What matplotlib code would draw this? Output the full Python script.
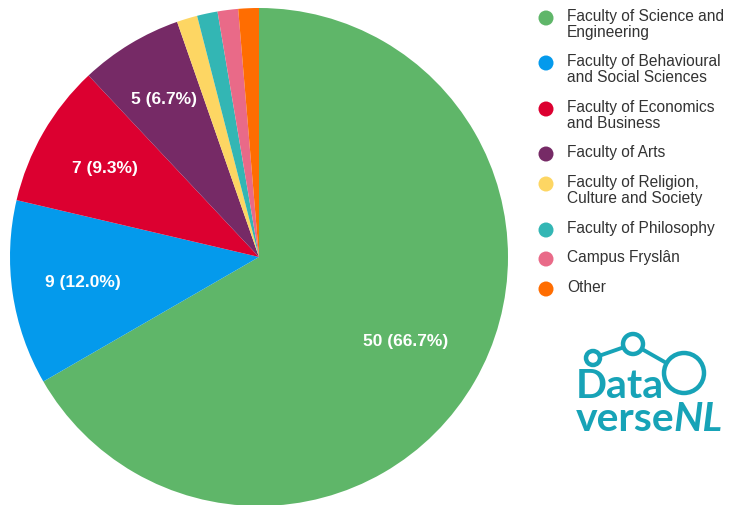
import numpy as np
import matplotlib.pyplot as plt
from matplotlib.patches import Circle

# data
labels = ['Faculty of Science and\nEngineering',
          'Faculty of Behavioural\nand Social Sciences',
          'Faculty of Economics\nand Business',
          'Faculty of Arts',
          'Faculty of Religion,\nCulture and Society',
          'Faculty of Philosophy',
          'Campus Fryslân',
          'Other']
counts = [50, 9, 7, 5, 1, 1, 1, 1]
colors = ['#5fb669', '#049aec', '#dc0030', '#762a66', '#fdd663',
          '#33b6b4', '#e96a88', '#ff6d01']
n_labelled = 4  # first four slices get a value label

total = sum(counts)

plt.rcParams['font.family'] = ['Liberation Sans', 'DejaVu Sans']
fig = plt.figure(figsize=(7.36, 5.05), dpi=100)

# pie axes, square 498 px
ax = fig.add_axes([10 / 736, -1 / 505, 498 / 736, 498 / 505])
wedges, _ = ax.pie(counts, colors=colors, startangle=90, counterclock=False,
                   radius=1.0, wedgeprops=dict(linewidth=0))
ax.set_xlim(-1, 1)
ax.set_ylim(-1, 1)

# label positions (fraction of radius)
label_r = [0.68, 0.714, 0.714, 0.74]
start = 90.0
for i, c in enumerate(counts):
    ang = start - 360.0 * c / total / 2
    start -= 360.0 * c / total
    if i < n_labelled:
        r = label_r[i]
        x = r * np.cos(np.radians(ang))
        y = r * np.sin(np.radians(ang))
        ax.text(x, y, '%d (%.1f%%)' % (c, 100.0 * c / total), color='white',
                fontsize=12.5, fontweight='bold', ha='center', va='center')

# overlay in pixel coords for legend + logo
ov = fig.add_axes([0, 0, 1, 1])
ov.set_xlim(0, 736)
ov.set_ylim(505, 0)
ov.axis('off')

legend_y = [18, 63, 109, 154, 184, 230, 259, 289]
for lab, col, y in zip(labels, colors, legend_y):
    ov.add_patch(Circle((546, y), 7.5, color=col, lw=0))
    ov.text(567, y - 9, lab, fontsize=11.2, color='#333333', ha='left', va='top',
            linespacing=1.1)

# DataverseNL logo
teal = '#17a3b7'
c1, c2, c3 = (593, 358), (633, 344), (684, 373)
ov.plot([c1[0], c2[0]], [c1[1], c2[1]], color=teal, lw=2.8, zorder=2)
ov.plot([c2[0], c3[0]], [c2[1], c3[1]], color=teal, lw=2.8, zorder=2)
for (cx, cy), rr in zip([c1, c2, c3], [7, 10, 20]):
    ov.add_patch(Circle((cx, cy), rr, facecolor='white', edgecolor=teal, lw=3.2, zorder=3))
ov.text(576, 431, 'Data\nverse', fontsize=29.5, fontweight='bold', color=teal,
        family='Lato', ha='left', va='baseline', linespacing=0.86)
ov.text(673, 431, 'NL', fontsize=29.5, fontweight='bold', fontstyle='italic', color=teal,
        family='Lato', ha='left', va='baseline')

fig.savefig('out.png', dpi=100)
